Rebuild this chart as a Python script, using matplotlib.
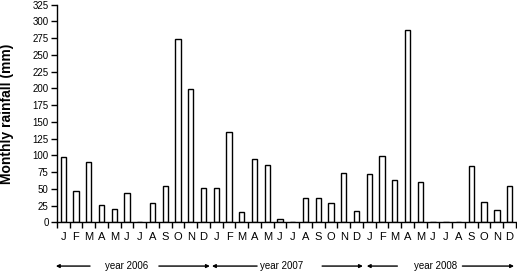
import numpy as np
import matplotlib.pyplot as plt

plt.rcParams['font.family'] = ['Liberation Sans', 'DejaVu Sans']

months = ['J', 'F', 'M', 'A', 'M', 'J', 'J', 'A', 'S', 'O', 'N', 'D'] * 3
rain_2006 = [98, 47, 90, 26, 20, 44, 0, 29, 55, 273, 199, 52]
rain_2007 = [52, 135, 15, 95, 86, 5, 0, 37, 37, 29, 74, 17]
rain_2008 = [73, 99, 63, 287, 60, 0, 0, 0, 85, 31, 18, 55]
years = ['year 2006', 'year 2007', 'year 2008']

rain = rain_2006 + rain_2007 + rain_2008
x = np.arange(len(rain))

fig = plt.figure(figsize=(5.17, 2.71), dpi=100)
ax = fig.add_axes([0.110, 0.179, 0.888, 0.804])

ax.bar(x, rain, width=0.42, color='white', edgecolor='black', linewidth=1.0)

ax.set_xlim(-0.5, 35.5)
ax.set_ylim(0, 325)
ax.set_yticks(np.arange(0, 326, 25))
ax.set_xticks(np.arange(-0.5, 36, 1))
ax.set_xticklabels([])
ax.set_xticks(x, minor=True)
ax.set_xticklabels(months, minor=True)
ax.tick_params(axis='x', which='minor', length=0, pad=7, labelsize=8)
ax.tick_params(axis='x', which='major', direction='out', length=4, width=1)
ax.tick_params(axis='y', direction='out', length=4, width=1, labelsize=7, pad=2)
for s in ['top', 'right']:
    ax.spines[s].set_visible(False)
ax.spines['left'].set_linewidth(1)
ax.spines['bottom'].set_linewidth(1)

ax.set_ylabel('Monthly rainfall (mm)', fontsize=10, fontweight='bold')
ax.yaxis.set_label_coords(-0.094, 0.5)

# year labels with arrows below the month letters
text_x = [4.95, 17.15, 29.2]
left_arrows = [(2.1, -0.58), (15.2, 11.66), (26.2, 23.8)]
right_arrows = [(7.5, 11.5), (20.3, 23.5), (31.3, 35.35)]
ytxt = -0.2
tr = ax.get_xaxis_transform()
for lab, tx, la, ra in zip(years, text_x, left_arrows, right_arrows):
    ax.text(tx, ytxt, lab, transform=tr, ha='center', va='center', fontsize=7, clip_on=False)
    for a in (la, ra):
        ax.annotate('', xy=(a[1], ytxt), xytext=(a[0], ytxt), xycoords=tr, textcoords=tr,
                    arrowprops=dict(arrowstyle='-|>', color='black', lw=1,
                                    mutation_scale=5, shrinkA=0, shrinkB=0),
                    annotation_clip=False)

fig.savefig('out.png', dpi=100)
